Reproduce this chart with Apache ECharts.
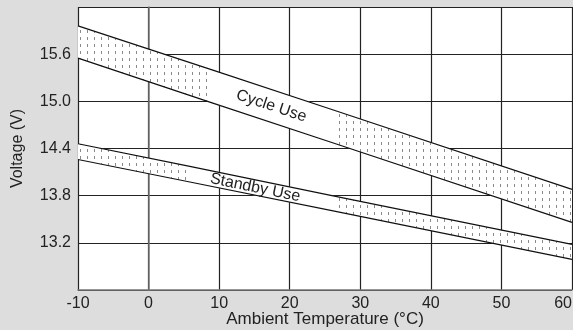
<!DOCTYPE html>
<html><head><meta charset="utf-8">
<script src="https://cdn.jsdelivr.net/npm/echarts@6/dist/echarts.min.js"></script>
<style>html,body{margin:0;padding:0;background:#dddddd}#c{width:573px;height:330px}</style>
</head><body><div id="c"></div>
<script>
// ---- data ----
const xTicks = [-10, 0, 10, 20, 30, 40, 50, 60];
const yTicks = [13.2, 13.8, 14.4, 15.0, 15.6];
const cycleTemps = [-10, 9, 26.5, 60];
const cycleUpper = [15.96, 15.40, 14.88, 13.88];
const cycleLower = [15.55, 14.98, 14.46, 13.46];
const standbyTemps = [-10, 5.5, 26.5, 60];
const standbyUpper = [14.46, 14.18, 13.79, 13.18];
const standbyLower = [14.26, 13.98, 13.60, 12.99];
const bandLabels = ['Cycle Use', 'Standby Use'];
const labelTemps = [17.4, 15.1];
const labelVolts = [14.94, 13.90];

const FONT = '"Liberation Sans", Arial, Helvetica, sans-serif';

function makePattern() {
  const c = document.createElement('canvas');
  c.width = 7; c.height = 7;
  const g = c.getContext('2d');
  g.fillStyle = '#ffffff'; g.fillRect(0, 0, 7, 7);
  g.fillStyle = '#8a8a8a'; g.fillRect(3, 2, 1, 3);
  return c;
}
const pattern = { image: makePattern(), repeat: 'repeat' };

function bandSeries(temps, up, lo, label, lt, lv) {
  return {
    type: 'custom',
    coordinateSystem: 'cartesian2d',
    clip: true,
    z: 2,
    silent: true,
    data: temps.slice(0, -1).map((t, i) => [t, up[i]]),
    renderItem: function (params, api) {
      const i = params.dataIndex;
      const a = api.coord([temps[i], up[i]]);
      const b = api.coord([temps[i + 1], up[i + 1]]);
      const c = api.coord([temps[i + 1], lo[i + 1]]);
      const d = api.coord([temps[i], lo[i]]);
      const children = [{
        type: 'polygon',
        shape: { points: [a, b, c, d] },
        style: { fill: i === 1 ? '#ffffff' : pattern, stroke: i === 1 ? '#ffffff' : null, lineWidth: 0.5 }
      }];
      if (i === 1) {
        const p = api.coord([lt, lv]);
        const rot = -Math.atan2(b[1] - a[1], b[0] - a[0]);
        children.push({
          type: 'text', x: p[0], y: p[1], rotation: rot, z2: 5,
          style: { text: label, fill: '#222', fontSize: 16, fontFamily: FONT, align: 'center', verticalAlign: 'middle' }
        });
      }
      return { type: 'group', children: children };
    }
  };
}

function lineSeries(temps, vals) {
  return {
    type: 'line', symbol: 'none', z: 3, silent: true,
    data: temps.map((t, i) => [t, vals[i]]),
    lineStyle: { color: '#111', width: 1.2 }
  };
}

const chart = echarts.init(document.getElementById('c'), null, { renderer: 'canvas' });
chart.setOption({
  backgroundColor: '#dddddd',
  animation: false,
  grid: { left: 78, right: 1, top: 7, bottom: 40, backgroundColor: '#ffffff', show: true, borderWidth: 0,
    outerBoundsMode: 'none', containLabel: false },
  xAxis: {
    type: 'value', min: -10, max: 60, interval: 10,
    name: 'Ambient Temperature (°C)', nameLocation: 'middle', nameGap: 21, nameMoveOverlap: false,
    nameTextStyle: { fontSize: 17, color: '#222', fontFamily: FONT },
    axisLine: { show: true, lineStyle: { color: '#777', width: 1.5 } },
    axisTick: { show: false },
    splitLine: { show: true, lineStyle: { color: '#222', width: 1.2 } },
    axisLabel: { fontSize: 16, color: '#222', fontFamily: FONT, margin: 6, alignMaxLabel: 'right',
      formatter: v => xTicks.includes(Math.round(v)) ? String(Math.round(v)) : '' }
  },
  yAxis: {
    type: 'value', min: 12.6, max: 16.2, interval: 0.6,
    name: 'Voltage (V)', nameLocation: 'middle', nameGap: 52, nameMoveOverlap: false,
    nameTextStyle: { fontSize: 16, color: '#222', fontFamily: FONT },
    axisLine: { show: true, lineStyle: { color: '#777', width: 1.5 } },
    axisTick: { show: false },
    splitLine: { show: true, lineStyle: { color: '#222', width: 1.2 } },
    axisLabel: { fontSize: 16, color: '#222', fontFamily: FONT, margin: 7,
      formatter: v => yTicks.some(t => Math.abs(t - v) < 1e-6) ? v.toFixed(1) : '' }
  },
  series: [
    bandSeries(cycleTemps, cycleUpper, cycleLower, bandLabels[0], labelTemps[0], labelVolts[0]),
    bandSeries(standbyTemps, standbyUpper, standbyLower, bandLabels[1], labelTemps[1], labelVolts[1]),
    lineSeries(cycleTemps, cycleUpper),
    lineSeries(cycleTemps, cycleLower),
    lineSeries(standbyTemps, standbyUpper),
    lineSeries(standbyTemps, standbyLower)
  ]
});
</script></body></html>
